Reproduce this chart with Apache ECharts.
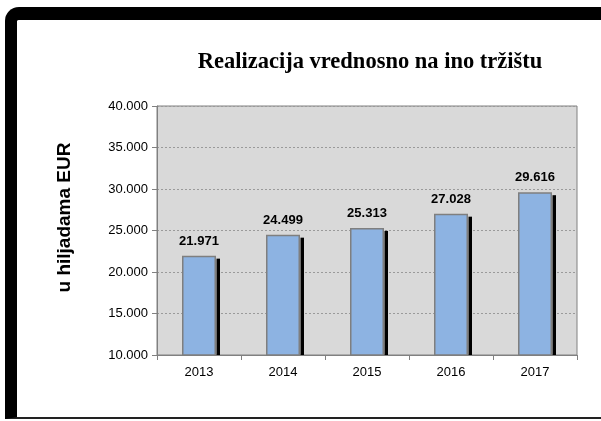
<!DOCTYPE html>
<html>
<head>
<meta charset="utf-8">
<script src="https://cdn.jsdelivr.net/npm/echarts@6/dist/echarts.min.js"></script>
<style>
  html, body { margin: 0; padding: 0; background: #fff; overflow: hidden; }
  #frame {
    position: absolute; left: 5px; top: 7px; width: 640px; height: 412px;
    box-sizing: border-box;
    border-left: 12px solid #000; border-top: 13px solid #000; border-bottom: 2px solid #222;
    border-top-left-radius: 14px;
  }
  #main { position: absolute; left: 0; top: 0; width: 601px; height: 421px; }
</style>
</head>
<body>
<div id="frame"></div>
<div id="main"></div>
<script>
// podaci
var years = ['2013', '2014', '2015', '2016', '2017'];
var values = [21971, 24499, 25313, 27028, 29616];

function fmt(v) {
  // 21971 -> 21.971
  var s = String(Math.round(v));
  return s.replace(/\B(?=(\d{3})+(?!\d))/g, '.');
}

var BAR_W = 34;

var myChart = echarts.init(document.getElementById('main'));
var option = {
  animation: false,
  title: {
    text: 'Realizacija vrednosno na ino tržištu',
    left: 365, top: 46, textAlign: 'center',
    textStyle: { fontFamily: 'Liberation Serif', fontWeight: 'bold', fontSize: 22.5, color: '#000' }
  },
  grid: {
    left: 157, top: 106, right: 24, bottom: 66,
    show: true, backgroundColor: '#D9D9D9', borderColor: '#808080', borderWidth: 1
  },
  xAxis: {
    type: 'category',
    data: years,
    axisLine: { lineStyle: { color: '#808080' } },
    axisTick: { show: true, alignWithLabel: false, length: 5, lineStyle: { color: '#808080' } },
    axisLabel: { color: '#000', fontFamily: 'Liberation Sans', fontSize: 13, margin: 11 }
  },
  yAxis: {
    type: 'value',
    min: 10000, max: 40000, interval: 5000,
    name: 'u hiljadama EUR',
    nameLocation: 'middle', nameGap: 83, nameRotate: 90,
    nameTextStyle: {
      color: '#000', fontFamily: 'Liberation Sans', fontWeight: 'bold', fontSize: 19,
      padding: [0, 0, 0, 26]
    },
    axisLine: { show: true, lineStyle: { color: '#808080' } },
    axisTick: { show: true, length: 5, lineStyle: { color: '#808080' } },
    axisLabel: { color: '#000', fontFamily: 'Liberation Sans', fontSize: 13, margin: 9, formatter: fmt },
    splitLine: { lineStyle: { color: '#9a9a9a', type: [2, 2] } }
  },
  series: [
    {
      // crna senka desno od stubica
      type: 'custom',
      data: values.map(function (v, i) { return [i, v]; }),
      z: 1,
      renderItem: function (params, api) {
        var top = api.coord([api.value(0), api.value(1)]);
        var base = api.coord([api.value(0), 10000]);
        return {
          type: 'rect',
          shape: { x: top[0] + BAR_W / 2 + 0.5, y: top[1] + 3, width: 3.5, height: base[1] - top[1] - 3 },
          style: { fill: '#000' }
        };
      }
    },
    {
      type: 'bar',
      data: values,
      barWidth: BAR_W,
      z: 2,
      itemStyle: { color: '#8DB3E2', borderColor: '#7f7f7f', borderWidth: 1.5 },
      label: {
        show: true, position: 'top', distance: 8,
        color: '#000', fontFamily: 'Liberation Sans', fontWeight: 'bold', fontSize: 13,
        formatter: function (p) { return fmt(p.value); }
      }
    }
  ]
};
myChart.setOption(option);
</script>
</body>
</html>
